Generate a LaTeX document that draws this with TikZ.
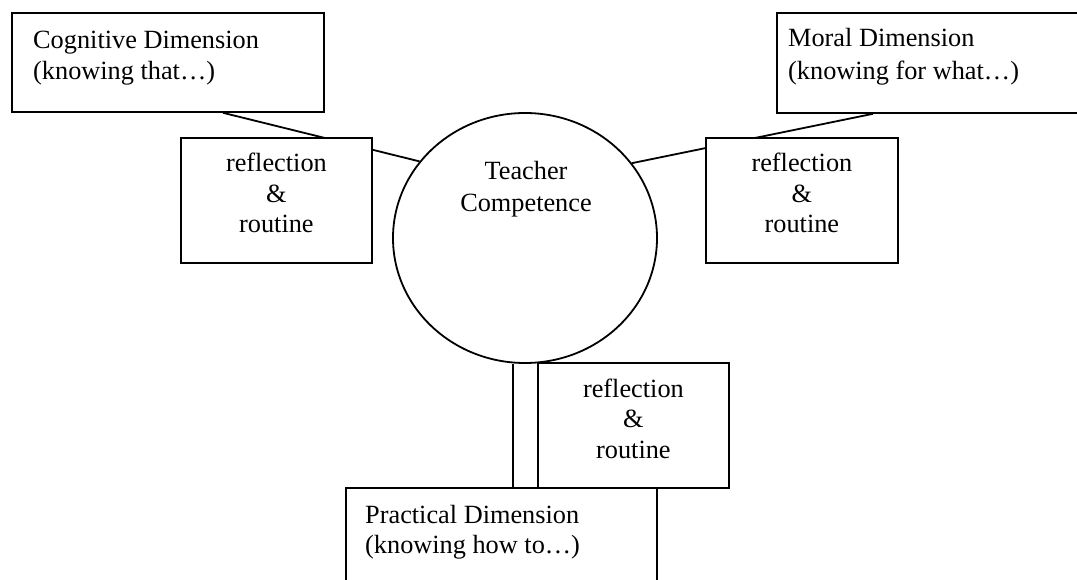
\documentclass[tikz,border=0pt]{standalone}
\usepackage{fontspec}
\setmainfont{Liberation Serif}
\usetikzlibrary{calc,shapes.geometric}
\begin{document}
\begin{tikzpicture}[x=1pt,y=-1pt,
  box/.style={draw, line width=1.8pt, fill=white, rectangle, inner sep=0pt, anchor=north west},
  txt/.style={font=\fontsize{26.3}{30.5}\selectfont, inner sep=0pt, anchor=base},
  txtl/.style={font=\fontsize{26.3}{30.5}\selectfont, inner sep=0pt, anchor=base west},
  conn/.style={line width=1.8pt}]
\useasboundingbox (0,0) rectangle (1077,580);
\clip (0,0) rectangle (1077,580);
% dimension boxes and circle
\node[box, minimum width=312pt, minimum height=99pt] (cog) at (11,12) {};
\node[box, minimum width=310pt, minimum height=100pt] (mor) at (776,12) {};
\node[box, minimum width=311pt, minimum height=130pt] (pra) at (345,487) {};
\node[draw, ellipse, line width=1.8pt, minimum width=264pt, minimum height=250pt, inner sep=0pt] (circ) at (525,238) {};
% connectors
\draw[conn] ($(cog.south west)+(212,0)$) -- (circ.144.6);
\draw[conn] (circ.35.1) -- ($(mor.south west)+(97,0)$);
\coordinate (cb) at ($(circ.south)+(-12,0)$);
\draw[conn] (cb) -- (cb |- pra.north);
% reflection boxes
\node[box, minimum width=191pt, minimum height=125pt] (r1) at (180,137) {};
\node[box, minimum width=192pt, minimum height=125pt] (r2) at (705,137) {};
\node[box, minimum width=191pt, minimum height=125pt] (r3) at (537,362) {};
% texts
\node[txtl] (cogA) at ($(cog.north west)+(22,37)$) {Cognitive Dimension};
\node[txtl] (cogB) at ($(cog.north west)+(22,68)$) {(knowing that…)};
\node[txtl] (morA) at ($(mor.north west)+(12,35)$) {Moral Dimension};
\node[txtl] (morB) at ($(mor.north west)+(12,68)$) {(knowing for what…)};
\node[txtl] (praA) at ($(pra.north west)+(20,36)$) {Practical Dimension};
\node[txtl] (praB) at ($(pra.north west)+(20,66)$) {(knowing how to…)};
\node[txt] (tcA) at ($(circ.center)+(1,-58)$) {Teacher};
\node[txt] (tcB) at ($(circ.center)+(1,-26)$) {Competence};
\foreach \r in {r1,r2,r3}{
  \node[txt] at ($(\r.north)+(0,35)$) {reflection};
  \node[txt] at ($(\r.north)+(0,65.5)$) {\&};
  \node[txt] at ($(\r.north)+(0,96)$) {routine};
}
\end{tikzpicture}
\end{document}
